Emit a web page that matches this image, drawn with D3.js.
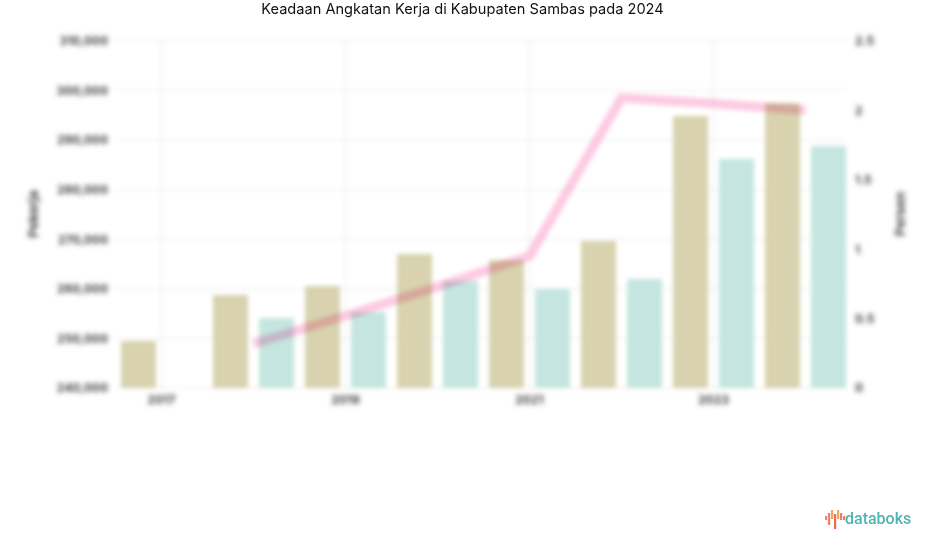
<!DOCTYPE html>
<html><head><meta charset="utf-8">
<script src="https://cdn.jsdelivr.net/npm/d3@7/dist/d3.min.js"></script>
<style>html,body{margin:0;padding:0;background:#fff}svg{display:block}</style>
</head><body><svg id="c" width="925" height="547"></svg>
<script>
const titleText = "Keadaan Angkatan Kerja di Kabupaten Sambas pada 2024";
const years = ["2017","2018","2019","2020","2021","2022","2023","2024"];
const shownYears = ["2017","2019","2021","2023"];
const seriesA = [249480,258760,260580,267030,265820,269650,294870,297490];
const seriesB = [null,254120,255330,261590,259970,261990,286200,288820];
const lineValues = [null,0.32,0.52,0.73,0.95,2.09,2.05,2.0];
const leftTicks = [240000,250000,260000,270000,280000,290000,300000,310000];
const rightTicks = [0,0.5,1,1.5,2,2.5];
const leftLabel = "Pekerja", rightLabel = "Persen";
const seriesNames = ["a","b"];
const colors = {a:"#d8d3ae",b:"#c5e6e0",line:"#fdcbe3"};

const svg = d3.select("#c");
const font = "Inter, Roboto, sans-serif";
const x0 = d3.scaleBand().domain(years).range([115.5,851.5]);
const x1 = d3.scaleBand().domain(seriesNames).range([0,x0.bandwidth()]).paddingInner(0.24).paddingOuter(0.12);
const y = d3.scaleLinear().domain([240000,310000]).range([388,41]);
const yR = d3.scaleLinear().domain([0,2.5]).range([388,41]);

const defs = svg.append("defs");
const mkBlur=(id,s)=>defs.append("filter").attr("id",id).attr("filterUnits","userSpaceOnUse")
  .attr("x",0).attr("y",20).attr("width",925).attr("height",400)
  .append("feGaussianBlur").attr("stdDeviation",s);
mkBlur("blur",2.2); mkBlur("blurText",2.8);

const g = svg.append("g").attr("filter","url(#blur)");
const t = svg.append("g").attr("filter","url(#blurText)");

// grid
g.append("g").selectAll("line").data(leftTicks).join("line")
  .attr("x1",115).attr("x2",847).attr("y1",d=>y(d)).attr("y2",d=>y(d))
  .attr("stroke","#ebebeb").attr("stroke-width",1);
g.append("g").selectAll("line").data(shownYears).join("line")
  .attr("x1",d=>x0(d)+x0.bandwidth()/2).attr("x2",d=>x0(d)+x0.bandwidth()/2)
  .attr("y1",41).attr("y2",388).attr("stroke","#ebebeb").attr("stroke-width",1);

// bars
const rows = years.map((yr,i)=>({yr,a:seriesA[i],b:seriesB[i]}));
g.append("g").selectAll("g").data(rows).join("g")
  .attr("transform",d=>`translate(${x0(d.yr)},0)`)
  .selectAll("rect").data(d=>seriesNames.map(k=>({k,v:d[k]})).filter(e=>e.v!=null)).join("rect")
  .attr("x",d=>x1(d.k)).attr("width",x1.bandwidth())
  .attr("y",d=>y(d.v)).attr("height",d=>y.range()[0]-y(d.v))
  .attr("fill",d=>colors[d.k]);

// line
const lineGen = d3.line().defined(d=>d.v!=null)
  .x(d=>x0(d.yr)+x0.bandwidth()/2).y(d=>yR(d.v));
g.append("path").datum(years.map((yr,i)=>({yr,v:lineValues[i]})))
  .attr("d",lineGen).attr("fill","none").attr("stroke",colors.line)
  .attr("stroke-width",9.5).attr("stroke-linejoin","miter")
  .style("mix-blend-mode","multiply");

// axes
const styleAxis = s=>{s.select(".domain").remove();s.selectAll("line").remove();
  s.selectAll("text").attr("font-family",font).attr("font-size",12).attr("font-weight",700).attr("fill","#444");};
t.append("g").attr("transform","translate(111,0)")
  .call(d3.axisLeft(y).tickValues(leftTicks).tickSize(0).tickPadding(3).tickFormat(d3.format(",")))
  .call(styleAxis);
t.append("g").attr("transform","translate(852,0)")
  .call(d3.axisRight(yR).tickValues(rightTicks).tickSize(0).tickPadding(3).tickFormat(d=>String(d)))
  .call(styleAxis);
t.append("g").attr("transform","translate(0,393)")
  .call(d3.axisBottom(x0).tickValues(shownYears).tickSize(0).tickPadding(2))
  .call(styleAxis);
t.append("text").attr("transform","translate(38,214) rotate(-90)").attr("text-anchor","middle")
  .attr("font-family",font).attr("font-size",13).attr("font-weight",700).attr("fill","#444").text(leftLabel);
t.append("text").attr("transform","translate(905,214) rotate(-90)").attr("text-anchor","middle")
  .attr("font-family",font).attr("font-size",13).attr("font-weight",700).attr("fill","#444").text(rightLabel);

// title
svg.append("text").attr("x",462.5).attr("y",14).attr("text-anchor","middle")
  .attr("font-family",font).attr("font-size",14.6).attr("fill","#111").text(titleText);

// logo
const logoHeights = [[826,3,4,"#ef7f6c"],[829,0,12,"#ef7f6c"],[832,-3,9,"#f3a45f"],[835,1,15,"#ea6a5b"],[838,-3,9,"#f3a45f"],[841,0,7,"#ef7f6c"],[844,3,4,"#ef7f6c"]];
svg.append("g").selectAll("rect").data(logoHeights).join("rect")
  .attr("x",d=>d[0]-1).attr("y",d=>513+d[1]).attr("width",2.2).attr("height",d=>d[2]).attr("fill",d=>d[3]);
svg.append("text").attr("x",845).attr("y",524).attr("font-family","Roboto, sans-serif")
  .attr("font-size",16).attr("font-weight",500).attr("fill","#4db6b2").text("databoks");
</script></body></html>
